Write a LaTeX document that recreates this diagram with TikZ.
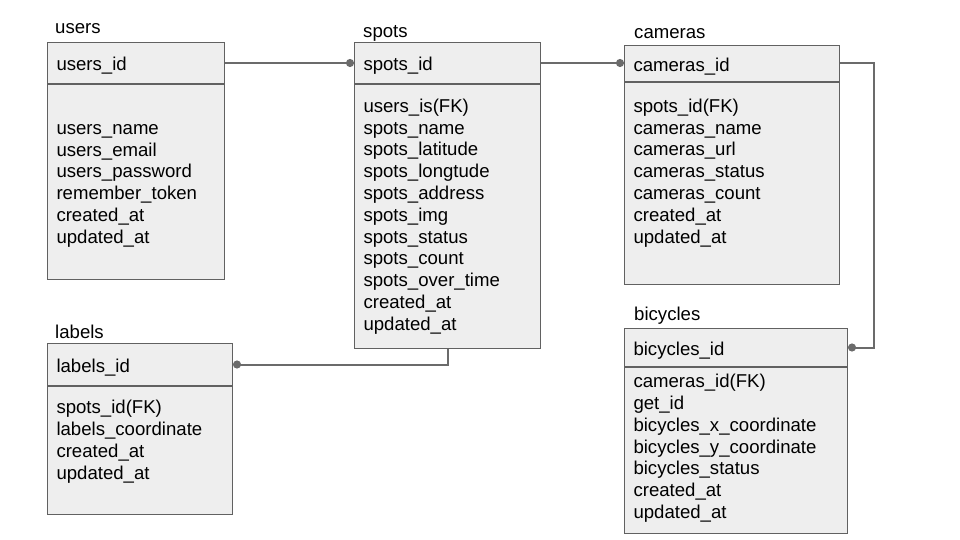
\documentclass[tikz,border=0pt]{standalone}
\usepackage{fontspec}
\setmainfont{Liberation Sans}
\usepackage{xcolor}
\usepackage{tikz}
\usetikzlibrary{arrows.meta}
\definecolor{boxfill}{HTML}{EEEEEE}
\definecolor{boxline}{HTML}{616161}
\definecolor{linkline}{HTML}{6B6B6B}
\newcommand{\tablerows}[4]{\parbox[c][#1][t]{#2}{\vspace*{#3}\strut#4}}

\begin{document}
\begin{tikzpicture}[x=1pt, y=-1pt,
  every node/.style={font=\fontsize{18.6pt}{21.8pt}\selectfont, text=black},
  title/.style={anchor=base west, inner sep=0pt},
  idbox/.style={draw=boxline, fill=boxfill, line width=1pt, anchor=north west,
    inner xsep=9pt, inner ysep=0pt, text height=18pt, text depth=2pt, align=left},
  fieldbox/.style={draw=boxline, fill=boxfill, line width=1pt, anchor=north west,
    inner xsep=9pt, inner ysep=0pt},
  link/.style={draw=linkline, line width=2pt, -{Circle[length=8pt]}}]
  \useasboundingbox (0,0) rectangle (960,540);
  % Table names
  \foreach \t/\x/\y in {users/55/34, spots/363/37.5, cameras/634/38.5, labels/55/338, bicycles/634/320}
    \node[title] (\t-title) at (\x,\y) {\t};
  % Tables
  \node[idbox, text width=159pt, minimum height=41pt] (users) at (47,42) {users\_id};
  \node[fieldbox] (usersbody) at (users.south west)
    {\tablerows{195pt}{159pt}{34.6pt}{users\_name\\users\_email\\users\_password\\remember\_token\\created\_at\\updated\_at}};
  \node[idbox, text width=168pt, minimum height=41pt] (spots) at (354,42) {spots\_id};
  \node[fieldbox] (spotsbody) at (spots.south west)
    {\tablerows{264pt}{168pt}{12.6pt}{users\_is(FK)\\spots\_name\\spots\_latitude\\spots\_longtude\\spots\_address\\spots\_img\\spots\_status\\spots\_count\\spots\_over\_time\\created\_at\\updated\_at}};
  \node[idbox, text width=197pt, minimum height=36pt] (cameras) at (624,45) {cameras\_id};
  \node[fieldbox] (camerasbody) at (cameras.south west)
    {\tablerows{202pt}{197pt}{14.6pt}{spots\_id(FK)\\cameras\_name\\cameras\_url\\cameras\_status\\cameras\_count\\created\_at\\updated\_at}};
  \node[idbox, text width=167pt, minimum height=42pt] (labels) at (47,343) {labels\_id};
  \node[fieldbox] (labelsbody) at (labels.south west)
    {\tablerows{128pt}{167pt}{12pt}{spots\_id(FK)\\labels\_coordinate\\created\_at\\updated\_at}};
  \node[idbox, text width=205pt, minimum height=38pt] (bicycles) at (624,328) {bicycles\_id};
  \node[fieldbox] (bicyclesbody) at (bicycles.south west)
    {\tablerows{166pt}{205pt}{5pt}{cameras\_id(FK)\\get\_id\\bicycles\_x\_coordinate\\bicycles\_y\_coordinate\\bicycles\_status\\created\_at\\updated\_at}};
  % Links
  \draw[link] (users.east) -- (spots.west);
  \draw[link] (spots.east) -- (spots.east -| cameras.west);
  \draw[link] (cameras.east) -- ++(34,0) |- (bicycles.east);
  \draw[link] (spotsbody.south) |- (labels.east);
\end{tikzpicture}
\end{document}
